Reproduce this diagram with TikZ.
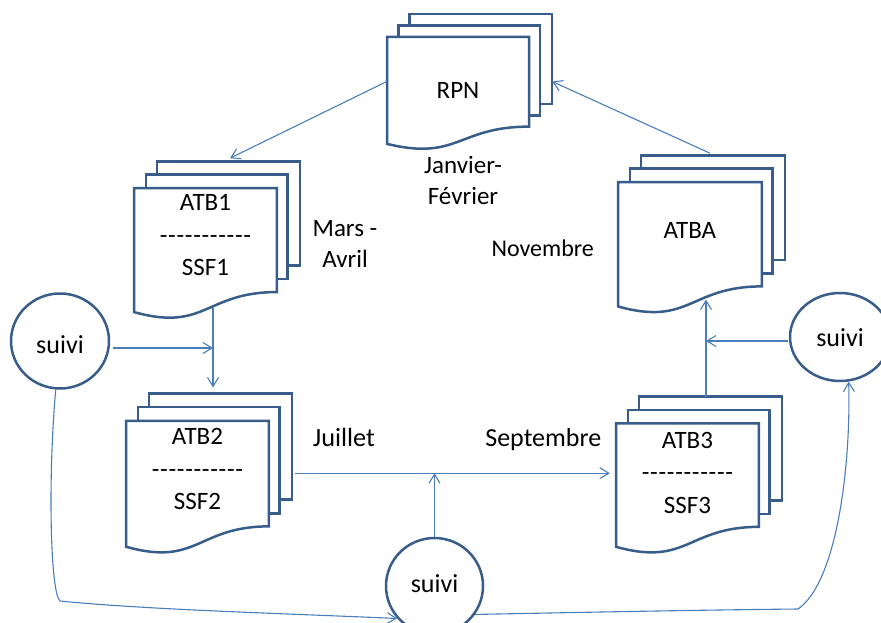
\documentclass[tikz,border=0pt]{standalone}
\usepackage{fontspec}
\setmainfont{Carlito}
\usetikzlibrary{arrows.meta,shapes.geometric,calc}

\definecolor{docblue}{HTML}{385D8A}
\definecolor{linkblue}{HTML}{4A7EBB}

\newcommand{\dashrow}{-\kern.7pt-\kern.7pt-\kern.7pt-\kern.7pt-\kern.7pt-\kern.7pt-\kern.7pt-\kern.7pt-\kern.7pt-\kern.7pt-}

% name, top left, width, height, text height, text
\newcommand{\docstack}[6]{%
	\begin{scope}[shift={#2},xscale=#3/21.6,yscale=#4/21.6]
	\draw[sheet] (2.972,0) rectangle (21.6,14.392);
	\draw[sheet] (1.532,1.815) rectangle (20,16.252);
	\draw[sheet] (0,3.675) -- (18.595,3.675) -- (18.595,18.022)
		.. controls (9.298,18.022) and (9.298,23.542) .. (0,20.782) -- cycle;
	\node[stackbox,minimum width=#3,minimum height=#4] (#1) at (10.8,10.8) {};
	\node[doctext] (#1-t) at (9.3,#5) {#6};
	\end{scope}}

\begin{document}
\begin{tikzpicture}[x=1pt,y=-1pt,
	sheet/.style={draw=docblue,line width=2.5pt,fill=white},
	stackbox/.style={inner sep=0pt},
	doctext/.style={font=\fontsize{25}{32.5}\selectfont,align=center,inner sep=0pt},
	month/.style={font=\fontsize{25}{30.5}\selectfont,align=center,inner sep=0pt},
	suivi/.style={ellipse,draw=docblue,line width=2.5pt,fill=white,inner sep=0pt,text depth=0pt,font=\fontsize{26}{30}\selectfont},
	link/.style={draw=linkblue,line width=1.1pt},
	arrowend/.style={-{Straight Barb[length=9pt,width=11pt]}}]
	
	\useasboundingbox (0,0) rectangle (881,622);
	\clip (0,0) rectangle (881,622);
	
	\docstack{rpn}{(387,14)}{165}{135}{12.3}{RPN}
	\docstack{atb1}{(134,161.4)}{166}{156.6}{10.22}{ATB1\\\dashrow\\SSF1}
	\docstack{atba}{(618,155.4)}{167}{157}{10.26}{ATBA}
	\docstack{atb2}{(126,393.7)}{166}{159}{10.26}{ATB2\\\dashrow\\SSF2}
	\docstack{atb3}{(616,396.7)}{166}{156}{10.5}{ATB3\\\dashrow\\SSF3}
	
	\node[suivi,minimum width=98,minimum height=95,text height=24pt] (s1) at (60,341) {suivi};
	\node[suivi,minimum width=100,minimum height=88,text height=18pt] (s2) at (840,337) {suivi};
	\node[suivi,minimum width=97,minimum height=96,text height=12pt] (s3) at (434.5,586) {suivi};
	
	\node[month] (jan) at (463,180.4) {Janvier-\\Février};
	\node[month] (mars) at (345,244) {Mars -\\Avril};
	\node[month,anchor=base,font=\fontsize{24}{30}\selectfont] (nov) at (542.7,256) {Novembre};
	\node[month,anchor=base,font=\fontsize{26.3}{30}\selectfont] (juil) at (344,446.7) {Juillet};
	\node[month,anchor=base,font=\fontsize{26}{30}\selectfont] (sept) at (543.3,446.7) {Septembre};
	
	\coordinate (a12) at ([shift={(-4,-10)}]atb1.south);
	\coordinate (a3a) at ([xshift=7pt]atb3.north);
	\coordinate (s1o) at ([shift={(3,7)}]s1.east);
	\coordinate (s2o) at ([shift={(-1,4)}]s2.west);
	
	\draw[link,arrowend] (rpn.west) -- ([shift={(13,-3)}]atb1.north);
	\draw[link,arrowend] ([shift={(8.5,-2)}]atba.north) -- (rpn.east);
	\draw[link,arrowend] (a12) -- ($(a12 |- atb2.north)+(0,-6)$);
	\draw[link,arrowend] (s1o) -- (s1o -| a12);
	\draw[link,arrowend] ([xshift=3pt]atb2.east) -- ($(atb2.east -| atb3.west)+(-6,0)$);
	\draw[link,arrowend] (s3.north) -- (s3.north |- atb2.east);
	\draw[link,arrowend] (a3a) -- ($(a3a |- atba.south)+(0,-13)$);
	\draw[link,arrowend] (s2o) -- (s2o -| a3a);
	
	\draw[link,arrowend] (s1.265) .. controls (48,475) and (50,592) .. (60,601)
		.. controls (150,610) and (300,614) .. (s3.221);
	\draw[link,arrowend] (s3.325) .. controls (600,612) and (700,610) .. (798,609)
		.. controls (836,583) and (851,470) .. (s2.281);
	
\end{tikzpicture}
\end{document}
